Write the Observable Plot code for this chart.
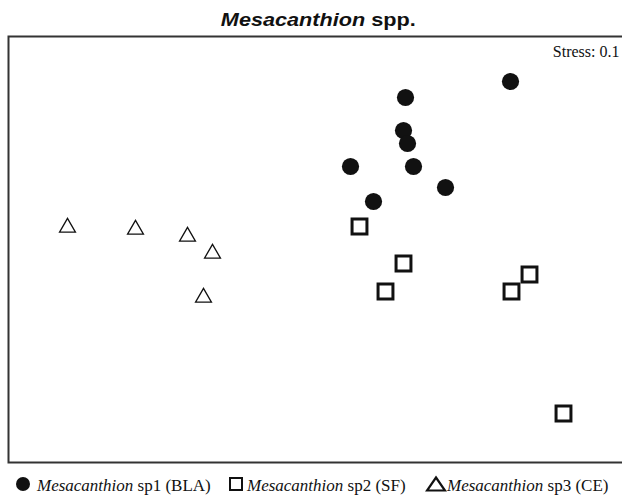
<!DOCTYPE html>
<html>
<head>
<meta charset="utf-8">
<script src="https://cdn.jsdelivr.net/npm/d3@7"></script>
<script src="https://cdn.jsdelivr.net/npm/@observablehq/plot@0.6"></script>
<style>
  html, body { margin: 0; padding: 0; background: #fff; }
  #wrap { position: relative; width: 622px; height: 496px; overflow: hidden; }
  #title { position: absolute; left: 0; top: 9px; width: 637px; text-align: center; line-height: 22px; }
  #title span { display: inline-block; transform: scaleX(1.17); transform-origin: center;
    font-family: "Liberation Sans", Arial, sans-serif; font-weight: bold; font-size: 18.5px; color: #111; }
  #chart { position: absolute; left: 0; top: 35px; }
  .legtext { position: absolute; top: 477px; font-family: "Liberation Serif", "Times New Roman", serif; font-size: 17px; color: #111; line-height: 17px; white-space: nowrap; }
  .legsym { position: absolute; }
</style>
</head>
<body>
<div id="wrap">
  <div id="title"></div>
  <div id="chart"></div>
</div>
<script>
// NMDS coordinates
const genus = "Mesacanthion";
const titleSuffix = "spp.";
const stressLabel = "Stress: 0.1";
const groupLabels = ["sp1 (BLA)", "sp2 (SF)", "sp3 (CE)"];

const sp1X = [0.975, 0.45, 0.44, 0.46, 0.175, 0.49, 0.65, 0.29];
const sp1Y = [0.84, 0.76, 0.595, 0.53, 0.415, 0.415, 0.31, 0.24];

const sp2X = [0.22, 0.44, 0.35, 1.07, 0.98, 1.24];
const sp2Y = [0.115, -0.07, -0.21, -0.125, -0.21, -0.82];

const sp3X = [-1.24, -0.90, -0.64, -0.515, -0.56];
const sp3Y = [0.11, 0.10, 0.065, -0.02, -0.24];

const toRows = (xs, ys) => xs.map((x, i) => ({x, y: ys[i]}));
const sp1 = toRows(sp1X, sp1Y);
const sp2 = toRows(sp2X, sp2Y);
const sp3 = toRows(sp3X, sp3Y);

document.getElementById("title").innerHTML = `<span><i>${genus}</i> ${titleSuffix}</span>`;

const plot = Plot.plot({
  width: 622,
  height: 428,
  marginLeft: 8,
  marginRight: -1,
  marginTop: 1,
  marginBottom: 1,
  x: {domain: [-1.535, 1.54], axis: null},
  y: {domain: [-1.065, 1.065], axis: null},
  style: {background: "transparent", overflow: "visible"},
  marks: [
    Plot.frame({stroke: "#333", strokeWidth: 2}),
    Plot.dot(sp1, {x: "x", y: "y", r: 8.6, fill: "#111", stroke: "none"}),
    Plot.dot(sp2, {x: "x", y: "y", symbol: "square", r: 8.4, fill: "white", stroke: "#111", strokeWidth: 3}),
    Plot.dot(sp3, {x: "x", y: "y", symbol: "triangle", r: 5.9, fill: "none", stroke: "#111", strokeWidth: 1.3}),
    Plot.text([stressLabel], {frameAnchor: "top-right", dx: -4, dy: 9, text: d => d,
      fontFamily: "Liberation Serif, Times New Roman, serif", fontSize: 16, fill: "#111", textAnchor: "end"})
  ]
});
document.getElementById("chart").appendChild(plot);

// legend
const wrap = document.getElementById("wrap");
const textX = [37, 247, 447];
const symbols = [
  `<svg class="legsym" width="16" height="16" style="left:15px;top:476px"><circle cx="8" cy="8" r="7" fill="#111"/></svg>`,
  `<svg class="legsym" width="16" height="16" style="left:228px;top:475.5px"><rect x="2" y="2" width="12" height="12" fill="white" stroke="#111" stroke-width="2"/></svg>`,
  `<svg class="legsym" width="22" height="18" style="left:425px;top:475px"><polygon points="11,2.5 20,15.5 2,15.5" fill="none" stroke="#111" stroke-width="2.2" stroke-linejoin="miter"/></svg>`
];
groupLabels.forEach((lab, i) => {
  wrap.insertAdjacentHTML("beforeend", symbols[i]);
  const el = document.createElement("div");
  el.className = "legtext";
  el.style.left = textX[i] + "px";
  el.innerHTML = `<i>${genus}</i> ${lab}`;
  wrap.appendChild(el);
});
</script>
</body>
</html>
